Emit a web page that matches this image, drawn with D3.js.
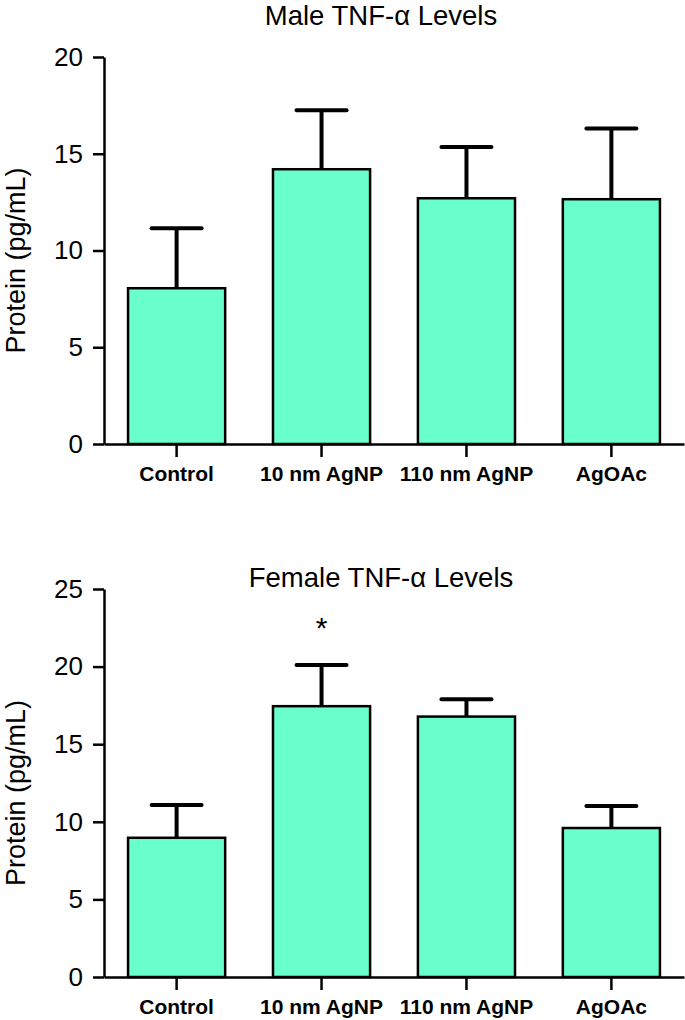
<!DOCTYPE html>
<html>
<head>
<meta charset="utf-8">
<script src="https://cdn.jsdelivr.net/npm/d3@7"></script>
<style>
  body { margin: 0; background: #fff; }
  svg text { font-family: "Liberation Sans", Arial, sans-serif; fill: #000; }
</style>
</head>
<body>
<svg id="chart" width="685" height="1020"></svg>
<script>
// groups along the x axis
var groups = ['Control', '10 nm AgNP', '110 nm AgNP', 'AgOAc'];

// male panel
var maleMean = [8.05, 14.2, 12.7, 12.65];
var maleErr = [3.1, 3.05, 2.65, 3.65];
var maleTicks = [0, 5, 10, 15, 20];

// female panel
var femaleMean = [8.97, 17.45, 16.78, 9.6];
var femaleErr = [2.12, 2.65, 1.12, 1.42];
var femaleTicks = [0, 5, 10, 15, 20, 25];
var femaleStars = ['', '*', '', ''];

var svg = d3.select('#chart');

var panels = [
    {title: 'Male TNF-\u03b1 Levels', mean: maleMean, err: maleErr, ticks: maleTicks,
     max: 20, top: 57, bottom: 444, titleY: 25, stars: null},
    {title: 'Female TNF-\u03b1 Levels', mean: femaleMean, err: femaleErr, ticks: femaleTicks,
     max: 25, top: 589, bottom: 977, titleY: 587, stars: femaleStars}
];

var left = 104, right = 684;

panels.forEach(function(p) {
    var g = svg.append('g');

    var x = d3.scaleBand()
        .domain(groups)
        .range([left, right])
        .paddingInner(0.33)
        .paddingOuter(0.166);

    var y = d3.scaleLinear()
        .domain([0, p.max])
        .range([p.bottom, p.top]);

    var bw = x.bandwidth();
    var rows = groups.map(function(d, i) { return {name: d, m: p.mean[i], e: p.err[i], i: i}; });

    // error bars (upper only), drawn before bars so the stem meets the top edge
    var eb = g.selectAll('.err').data(rows).enter().append('g').attr('class', 'err');
    eb.append('line')
        .attr('x1', function(d) { return x(d.name) + bw / 2; })
        .attr('x2', function(d) { return x(d.name) + bw / 2; })
        .attr('y1', function(d) { return y(d.m); })
        .attr('y2', function(d) { return y(d.m + d.e); })
        .attr('stroke', '#000').attr('stroke-width', 4);
    eb.append('line')
        .attr('x1', function(d) { return x(d.name) + bw / 2 - 25; })
        .attr('x2', function(d) { return x(d.name) + bw / 2 + 25; })
        .attr('y1', function(d) { return y(d.m + d.e); })
        .attr('y2', function(d) { return y(d.m + d.e); })
        .attr('stroke', '#000').attr('stroke-width', 4).attr('stroke-linecap', 'round');

    // bars
    g.selectAll('.bar').data(rows).enter().append('rect')
        .attr('class', 'bar')
        .attr('x', function(d) { return x(d.name); })
        .attr('width', bw)
        .attr('y', function(d) { return y(d.m); })
        .attr('height', function(d) { return y(0) - y(d.m); })
        .attr('fill', '#69ffcc')
        .attr('stroke', '#000')
        .attr('stroke-width', 2.5);

    // significance marks
    if (p.stars) {
        g.selectAll('.star').data(rows).enter().append('text')
            .attr('x', function(d) { return x(d.name) + bw / 2; })
            .attr('y', function(d) { return y(d.m + d.e) - 27; })
            .attr('text-anchor', 'middle')
            .attr('font-size', 30)
            .text(function(d) { return p.stars[d.i]; });
    }

    // y axis
    var ya = g.append('g')
        .attr('transform', 'translate(' + left + ',0)')
        .call(d3.axisLeft(y).tickValues(p.ticks).tickSize(11).tickSizeOuter(0).tickPadding(10));
    ya.select('.domain').attr('stroke-width', 2.5);
    ya.selectAll('.tick line').attr('stroke-width', 2.5);
    ya.selectAll('.tick text').attr('font-size', 26).attr('font-family', '"Liberation Sans", Arial, sans-serif');

    // x axis
    var xa = g.append('g')
        .attr('transform', 'translate(0,' + p.bottom + ')')
        .call(d3.axisBottom(x).tickSize(13).tickSizeOuter(0).tickPadding(9));
    xa.select('.domain').attr('stroke-width', 2.5);
    xa.selectAll('.tick line').attr('stroke-width', 2.5);
    xa.selectAll('.tick text').attr('font-size', 21).attr('font-weight', 'bold')
        .attr('font-family', '"Liberation Sans", Arial, sans-serif');

    // titles
    g.append('text')
        .attr('x', 381).attr('y', p.titleY)
        .attr('text-anchor', 'middle')
        .attr('font-size', 27.5)
        .text(p.title);

    var cy = (p.top + p.bottom) / 2 + 10;
    g.append('text')
        .attr('transform', 'translate(25,' + cy + ') rotate(-90)')
        .attr('text-anchor', 'middle')
        .attr('font-size', 27)
        .text('Protein (pg/mL)');
});
</script>
</body>
</html>
